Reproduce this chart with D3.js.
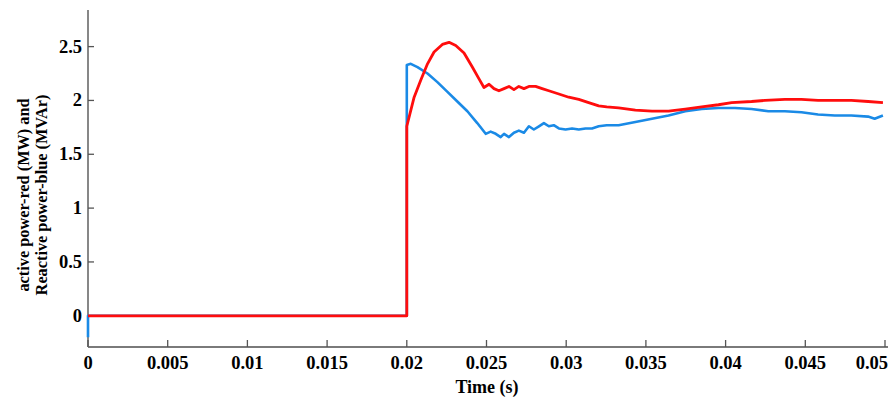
<!DOCTYPE html>
<html>
<head>
<meta charset="utf-8">
<script src="https://cdn.jsdelivr.net/npm/d3@7/dist/d3.min.js"></script>
<style>
  html, body { margin: 0; padding: 0; background: #fff; }
  svg { display: block; }
  .lbl { font-family: "Liberation Serif", "Times New Roman", serif; font-weight: bold; fill: #000; }
</style>
</head>
<body>
<svg id="chart" width="890" height="403"></svg>
<script>
// [time (s), MW] — active power (red)
const activePower = [
  [0, 0], [0.02, 0], [0.02, 1.76], [0.02046, 2.03], [0.02088, 2.19], [0.0213, 2.34],
  [0.02171, 2.45], [0.02223, 2.52], [0.02265, 2.54], [0.02307, 2.51], [0.02359, 2.44],
  [0.02411, 2.31], [0.02453, 2.2], [0.02484, 2.12], [0.02516, 2.15], [0.02547, 2.11],
  [0.02578, 2.09], [0.0261, 2.11], [0.02641, 2.13], [0.02672, 2.1], [0.02703, 2.13],
  [0.02735, 2.11], [0.02766, 2.13], [0.02808, 2.13], [0.02849, 2.11], [0.02891, 2.09],
  [0.02954, 2.06], [0.03016, 2.03], [0.03079, 2.01], [0.03141, 1.98], [0.03204, 1.95],
  [0.03254, 1.94], [0.03329, 1.93], [0.03434, 1.91], [0.03538, 1.9], [0.03642, 1.9],
  [0.03747, 1.92], [0.0385, 1.94], [0.03955, 1.96], [0.04038, 1.98], [0.04163, 1.99],
  [0.04247, 2.0], [0.04372, 2.01], [0.04476, 2.01], [0.0458, 2.0], [0.04685, 2.0],
  [0.04789, 2.0], [0.04894, 1.99], [0.04987, 1.98]
];
// [time (s), MVAr] — reactive power (blue)
const reactivePower = [
  [0, -0.2], [0, 0], [0.02, 0], [0.02, 2.33], [0.02025, 2.34], [0.02067, 2.31],
  [0.0213, 2.25], [0.02192, 2.17], [0.02255, 2.08], [0.02317, 1.99], [0.0238, 1.9],
  [0.02442, 1.79], [0.02495, 1.69], [0.02526, 1.71], [0.02558, 1.69], [0.02589, 1.66],
  [0.0261, 1.69], [0.02641, 1.66], [0.02672, 1.7], [0.02703, 1.72], [0.02735, 1.7],
  [0.02766, 1.76], [0.02797, 1.73], [0.02829, 1.76], [0.0286, 1.79], [0.02891, 1.76],
  [0.02922, 1.77], [0.02954, 1.74], [0.02996, 1.73], [0.03037, 1.74], [0.03079, 1.73],
  [0.03121, 1.74], [0.03162, 1.74], [0.03204, 1.76], [0.03254, 1.77], [0.03329, 1.77],
  [0.03434, 1.8], [0.03538, 1.83], [0.03642, 1.86], [0.03747, 1.9], [0.0385, 1.92],
  [0.03955, 1.93], [0.04059, 1.93], [0.04163, 1.92], [0.04268, 1.9], [0.04372, 1.9],
  [0.04476, 1.89], [0.0458, 1.87], [0.04685, 1.86], [0.04789, 1.86], [0.04894, 1.85],
  [0.04935, 1.83], [0.04987, 1.86]
];
const xTicks = [0, 0.005, 0.01, 0.015, 0.02, 0.025, 0.03, 0.035, 0.04, 0.045, 0.05];
const yTicks = [0, 0.5, 1, 1.5, 2, 2.5];
const yTitle = ['active power-red (MW) and', 'Reactive power-blue (MVAr)'];
const xTitle = 'Time (s)';

const svg = d3.select('#chart');
const x = d3.scaleLinear().domain([0, 0.05]).range([88, 885]);
const y = d3.scaleLinear().domain([-0.29, 2.84]).range([347, 10]);
const axisColor = '#7a7a7a';

// 坐标轴线
svg.append('line').attr('x1', 88).attr('x2', 888).attr('y1', 347).attr('y2', 347)
  .attr('stroke', axisColor).attr('stroke-width', 1.8);
svg.append('line').attr('x1', 88).attr('x2', 88).attr('y1', 10).attr('y2', 347)
  .attr('stroke', axisColor).attr('stroke-width', 1.8);

// x 刻度（朝内）
svg.selectAll('line.xt').data(xTicks).enter().append('line')
  .attr('class', 'xt').attr('x1', (d) => x(d)).attr('x2', (d) => x(d))
  .attr('y1', 347).attr('y2', 340).attr('stroke', '#555').attr('stroke-width', 1.3);
svg.selectAll('text.xl').data(xTicks).enter().append('text')
  .attr('class', 'lbl xl').attr('x', (d, i) => i === xTicks.length - 1 ? 888 : x(d)).attr('y', 369)
  .attr('text-anchor', (d, i) => i === xTicks.length - 1 ? 'end' : 'middle')
  .attr('font-size', 18.5).text((d) => d);

// y 刻度
svg.selectAll('line.yt').data(yTicks).enter().append('line')
  .attr('class', 'yt').attr('x1', 88).attr('x2', 94)
  .attr('y1', (d) => y(d)).attr('y2', (d) => y(d)).attr('stroke', '#555').attr('stroke-width', 1.3);
svg.selectAll('text.yl').data(yTicks).enter().append('text')
  .attr('class', 'lbl yl').attr('x', 82).attr('y', (d) => y(d) + 6)
  .attr('text-anchor', 'end').attr('font-size', 18.5).text((d) => d);

// 标题
svg.append('text').attr('class', 'lbl').attr('x', 487).attr('y', 393)
  .attr('text-anchor', 'middle').attr('font-size', 18).text(xTitle);
yTitle.forEach((t, i) => {
  svg.append('text').attr('class', 'lbl')
    .attr('transform', `translate(${29 + i * 18},195) rotate(-90)`)
    .attr('text-anchor', 'middle').attr('font-size', 16.3).text(t);
});

// 曲线
const line = d3.line().x((d) => x(d[0])).y((d) => y(d[1]));
svg.append('path').datum(reactivePower).attr('fill', 'none')
  .attr('stroke', '#1a8ae6').attr('stroke-width', 2.6).attr('stroke-linejoin', 'round').attr('d', line);
svg.append('path').datum(activePower).attr('fill', 'none')
  .attr('stroke', '#ff0d0d').attr('stroke-width', 2.8).attr('stroke-linejoin', 'round').attr('d', line);
</script>
</body>
</html>
